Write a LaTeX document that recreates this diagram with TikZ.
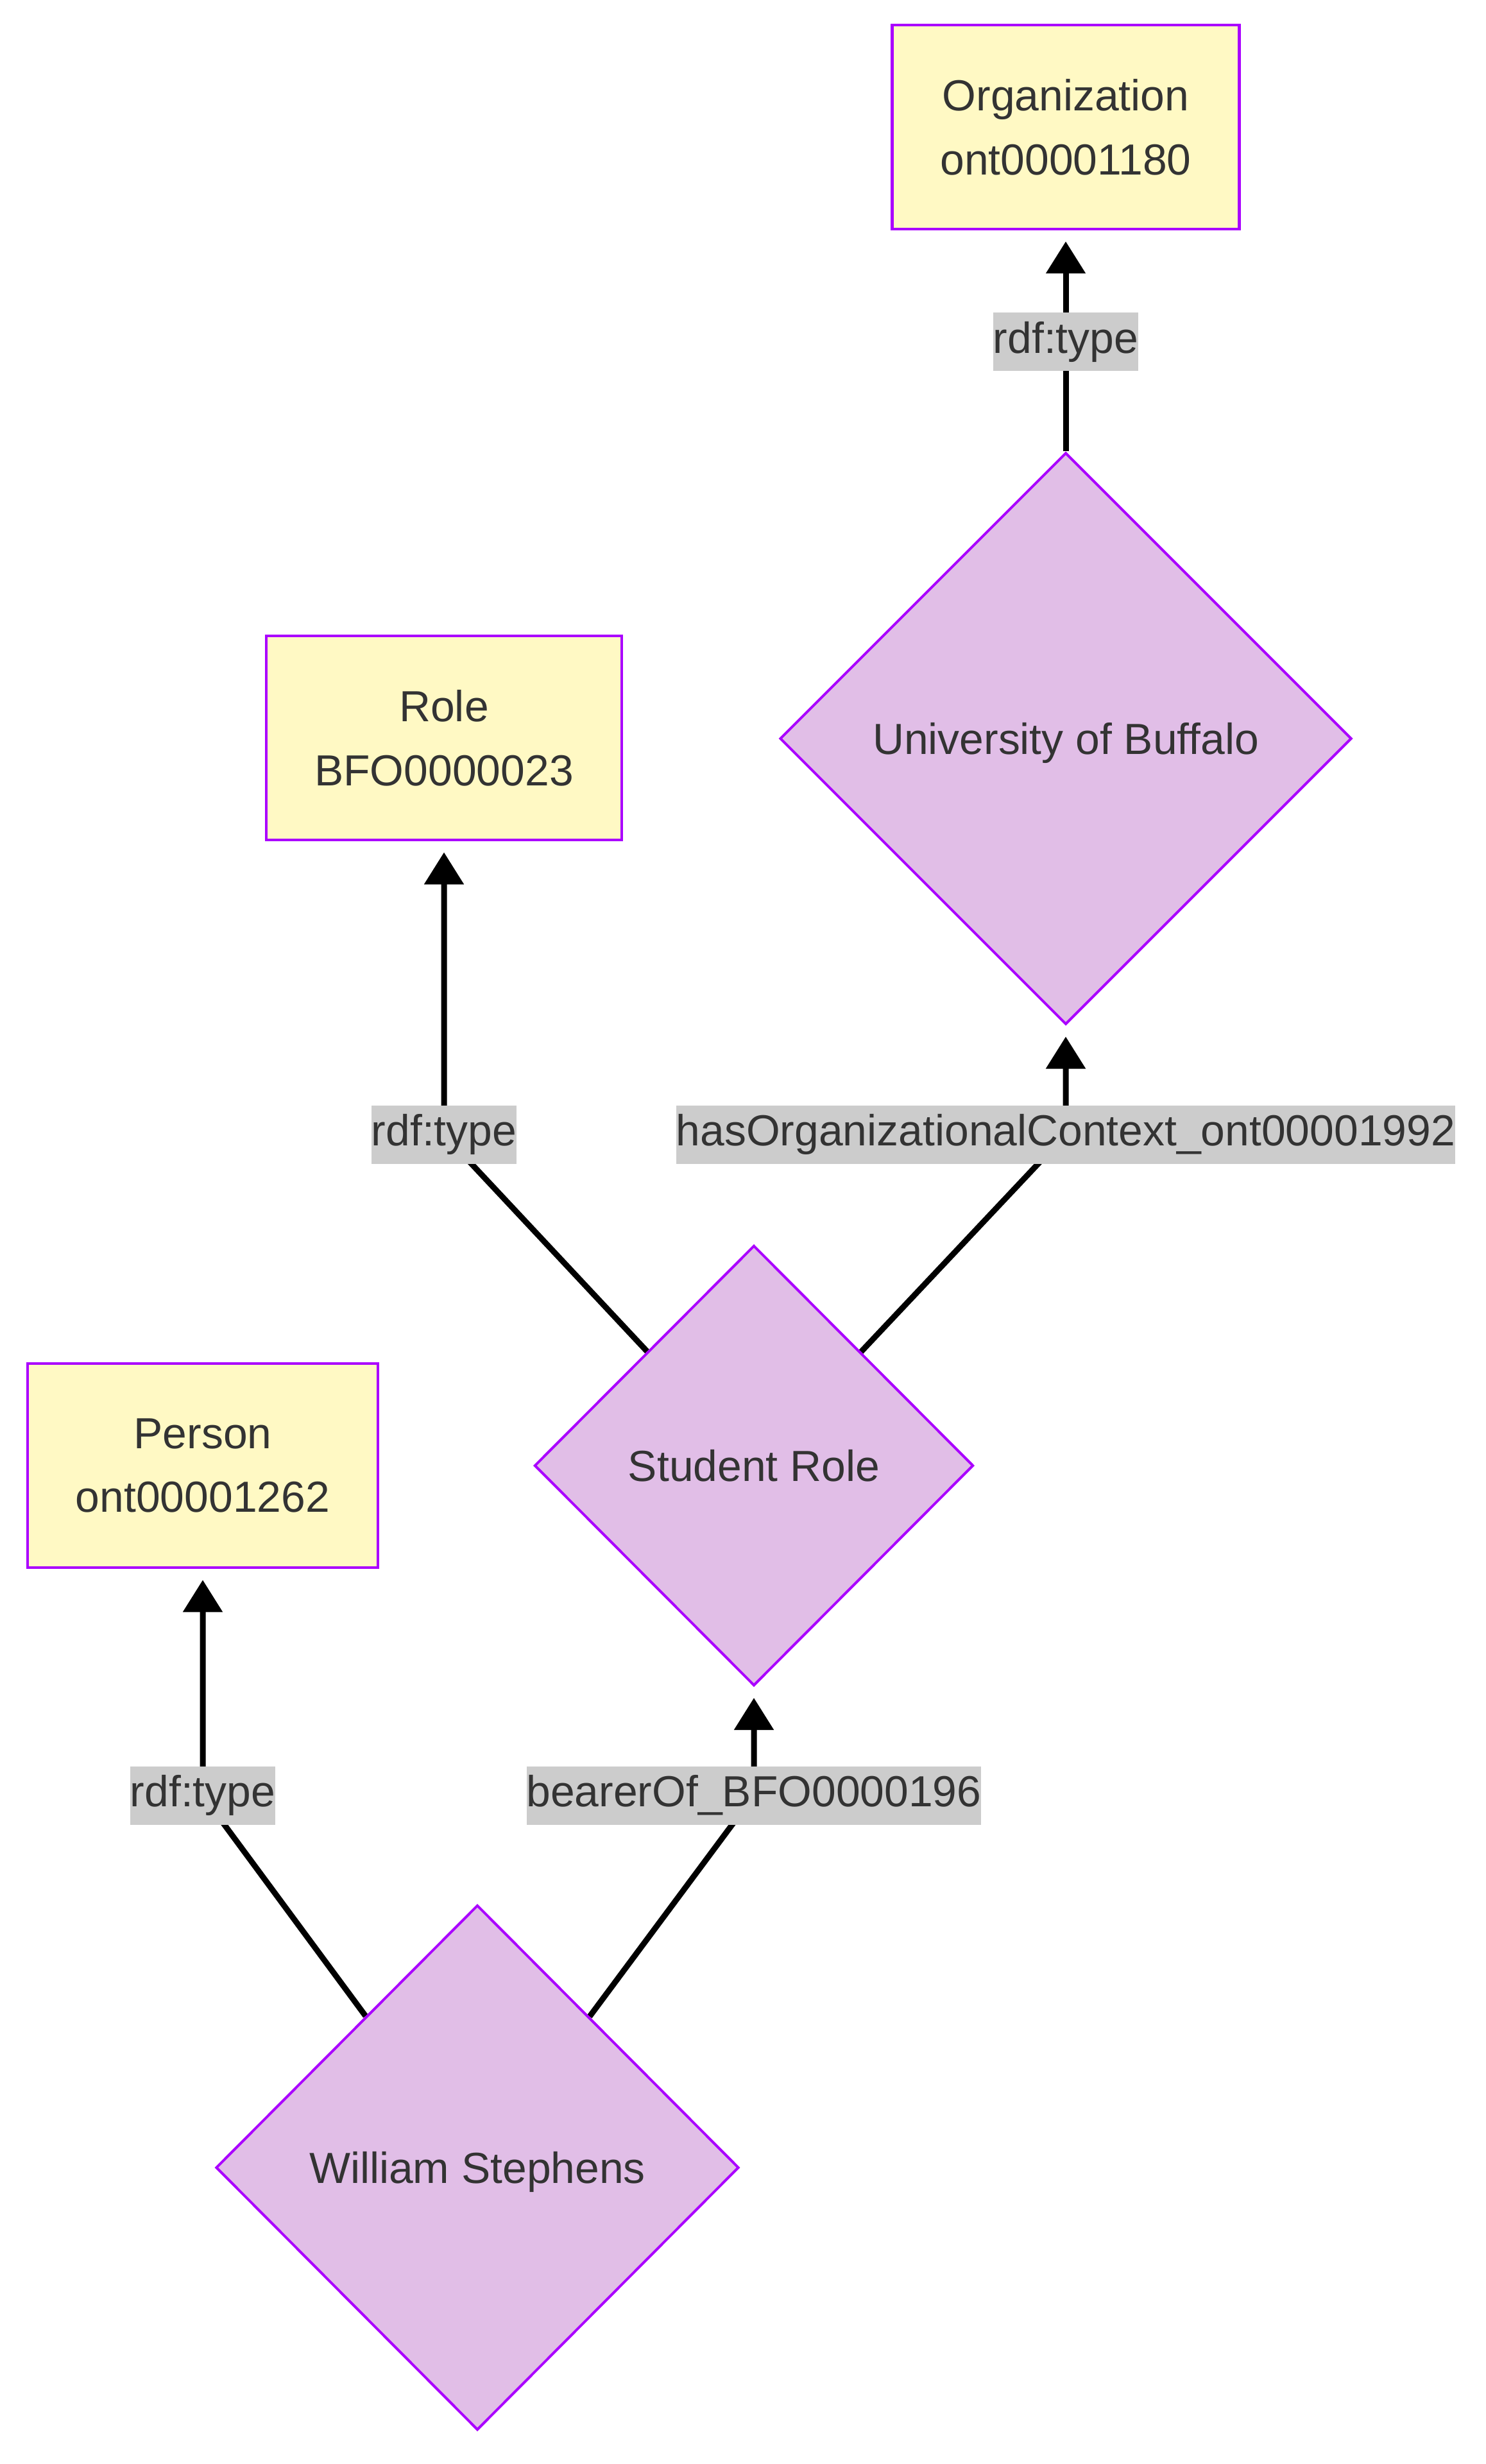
\documentclass[tikz,border=0pt]{standalone}
\usepackage{fontspec}
\setmainfont{Liberation Sans}
\usetikzlibrary{shapes.geometric, arrows.meta, backgrounds}

\definecolor{classfill}{HTML}{FFF9C4}
\definecolor{indivfill}{HTML}{E1BEE7}
\definecolor{nodeline}{HTML}{AA00FF}
\definecolor{labelfill}{HTML}{CCCCCC}
\definecolor{textgray}{HTML}{333333}

\tikzset{
  classbox/.style={draw=nodeline, fill=classfill, line width=0.045cm, minimum height=3.18cm, inner xsep=0.75cm, align=center, text=textgray},
  indiv/.style={diamond, draw=nodeline, fill=indivfill, line width=0.04cm, inner sep=0pt, text depth=0pt, text=textgray},
  rel/.style={fill=labelfill, inner sep=0pt, minimum height=0.91cm, text height=14pt, text depth=4pt, text=textgray},
  link/.style={line width=0.09cm, shorten >=0.17cm, -{Triangle[length=0.5cm, width=0.6cm]}}
}

\begin{document}
\begin{tikzpicture}[font=\fontsize{19.3}{28.4}\selectfont]
\useasboundingbox (0,0) rectangle (23.16,-38.40);

% classes
\node[classbox] (org) at (16.61,-1.98) {Organization\\ont00001180};
\node[classbox] (role) at (6.92,-11.50) {Role\\BFO0000023};
\node[classbox] (person) at (3.16,-22.84) {Person\\ont00001262};

% individuals
\node[indiv, minimum width=8.91cm, minimum height=8.91cm] (uob) at (16.61,-11.51) {University of Buffalo};
\node[indiv, minimum width=6.84cm, minimum height=6.86cm] (sr) at (11.75,-22.84) {Student Role};
\node[indiv, minimum width=8.15cm, minimum height=8.18cm] (ws) at (7.44,-33.78) {William Stephens};

% edge labels
\node[rel] (t1) at (16.61,-5.33) {rdf:type};
\node[rel] (t2) at (6.92,-17.68) {rdf:type};
\node[rel] (ctx) at (16.61,-17.68) {hasOrganizationalContext\_ont00001992};
\node[rel] (t3) at (3.16,-27.98) {rdf:type};
\node[rel] (bearer) at (11.75,-27.98) {bearerOf\_BFO0000196};

\begin{scope}[on background layer]
\draw[link] (uob) -- (t1.center) -- (org.south);
\draw[link] (sr) -- (t2.center) -- (role.south);
\draw[link] (sr) -- (ctx.center) -- (uob.south);
\draw[link] (ws) -- (t3.center) -- (person.south);
\draw[link] (ws) -- (bearer.center) -- (sr.south);
\end{scope}

\end{tikzpicture}
\end{document}
